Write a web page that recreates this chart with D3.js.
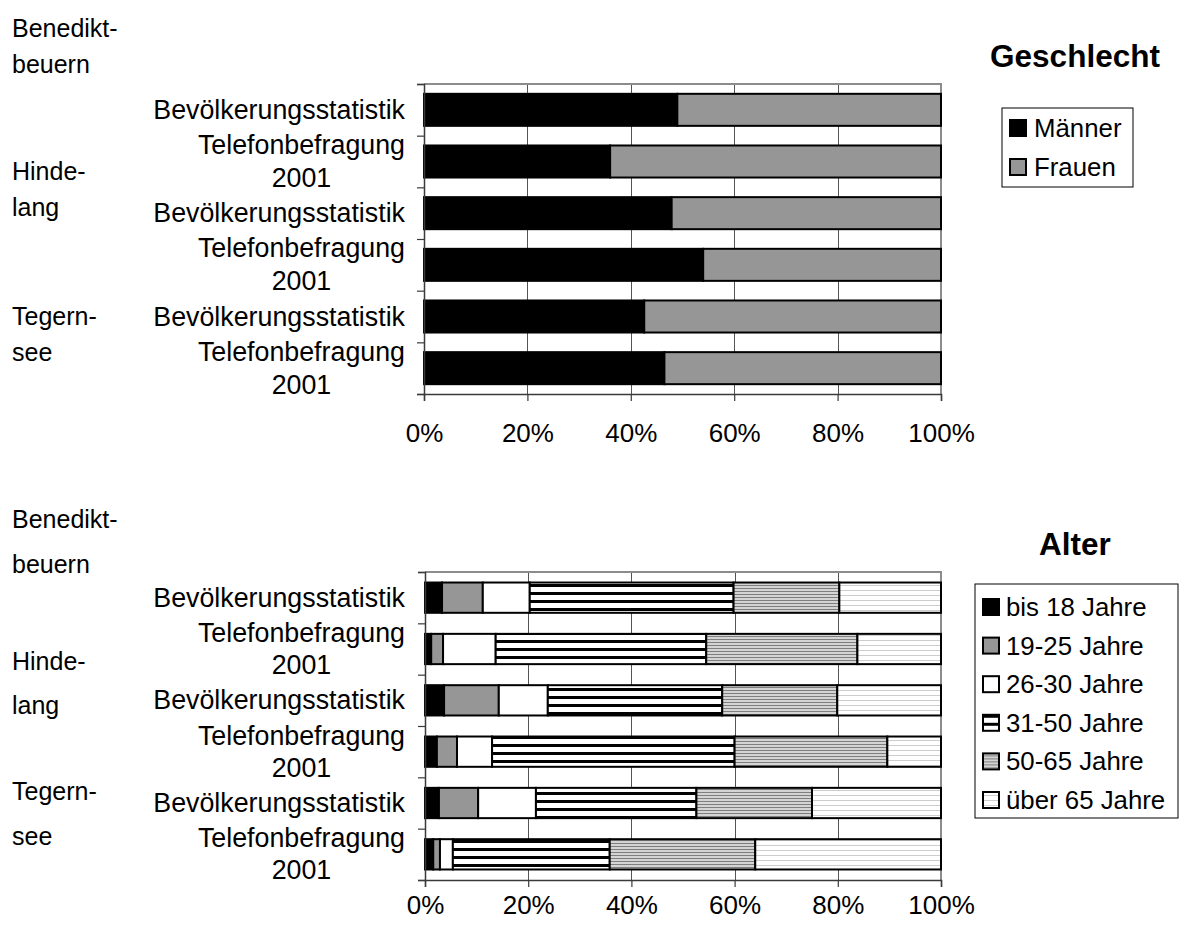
<!DOCTYPE html>
<html><head><meta charset="utf-8">
<script src="https://cdn.jsdelivr.net/npm/d3@7"></script>
<style>
body{margin:0;background:#fff}
text{font-family:"Liberation Sans",Arial,Helvetica,sans-serif;fill:#000}
</style>
</head><body>
<svg id="chart" width="1180" height="928"></svg>
<script>
// ---- data ----
const places = [["Benedikt-", "beuern"], ["Hinde-", "lang"], ["Tegern-", "see"]];
const sources = [["Bevölkerungsstatistik"], ["Telefonbefragung", "2001"]];
const rows = ["Benediktbeuern|Bev", "Benediktbeuern|Tel", "Hindelang|Bev", "Hindelang|Tel", "Tegernsee|Bev", "Tegernsee|Tel"];
const rowSource = [0, 1, 0, 1, 0, 1];
const tickValues = [0, 20, 40, 60, 80, 100];

const genderSeries = ["Männer", "Frauen"];
const maenner = [49.0, 36.0, 47.9, 54.0, 42.6, 46.5];
const frauen  = [51.0, 64.0, 52.1, 46.0, 57.4, 53.5];

const ageSeries = ["bis 18 Jahre", "19-25 Jahre", "26-30 Jahre", "31-50 Jahre", "50-65 Jahre", "über 65 Jahre"];
const bis18   = [3.3, 1.2, 3.7, 2.3, 2.7, 1.6];
const age1925 = [7.9, 2.3, 10.6, 3.9, 7.6, 1.3];
const age2630 = [9.1, 10.2, 9.5, 6.8, 11.2, 2.5];
const age3150 = [39.5, 40.8, 33.8, 47.0, 31.1, 30.4];
const age5065 = [20.5, 29.3, 22.3, 29.6, 22.4, 28.2];
const ueber65 = [19.7, 16.2, 20.1, 10.4, 25.0, 36.0];

// ---- drawing ----
const svg = d3.select("#chart");
const defs = svg.append("defs");

function stripes(id, w, h, bg, lines) {
  const p = defs.append("pattern").attr("id", id)
    .attr("patternUnits", "userSpaceOnUse").attr("width", w).attr("height", h);
  p.append("rect").attr("width", w).attr("height", h).attr("fill", bg);
  lines.forEach(l => p.append("rect").attr("y", l[0]).attr("width", w).attr("height", l[1]).attr("fill", l[2]));
}
stripes("pBold", 8, 8, "#fff", [[0, 3, "#000"]]);
stripes("pFine", 4, 3, "#d4d4d4", [[0, 1, "#7e7e7e"]]);
stripes("pLight", 4, 5, "#fff", [[0, 1, "#cdcdcd"]]);

const FONT = 25;
const CAT_FONT = 26.8;
const LEG_FONT = 25.8;

function panel(cfg) {
  const g = svg.append("g");
  const x = d3.scaleLinear().domain([0, 100]).range([cfg.x0, cfg.x1]);
  const y = d3.scaleBand().domain(rows).range([cfg.y0, cfg.y1])
    .paddingInner(cfg.pad).paddingOuter(cfg.pad / 2);
  const yEdge = d3.scaleLinear().domain([0, rows.length]).range([cfg.y0, cfg.y1]);

  // gridlines
  g.append("g").selectAll("line").data(tickValues.slice(1, -1)).join("line")
    .attr("x1", d => Math.round(x(d)) + 0.5).attr("x2", d => Math.round(x(d)) + 0.5)
    .attr("y1", cfg.y0).attr("y2", cfg.y1)
    .attr("stroke", "#555").attr("stroke-width", 1);

  // plot frame (top & right)
  g.append("path")
    .attr("d", `M${cfg.x0},${cfg.y0}H${cfg.x1}V${cfg.y1}`)
    .attr("fill", "none").attr("stroke", "#8c8c8c").attr("stroke-width", 2);

  // stacked bars
  const table = rows.map((r, i) => {
    const o = { row: r };
    cfg.keys.forEach((k, j) => { o[k] = cfg.values[j][i]; });
    return o;
  });
  const stacked = d3.stack().keys(cfg.keys)(table);
  g.append("g").selectAll("g").data(stacked).join("g")
    .attr("fill", (d, i) => cfg.fills[i])
    .selectAll("rect").data(d => d).join("rect")
    .attr("x", d => x(d[0])).attr("width", d => x(d[1]) - x(d[0]))
    .attr("y", d => y(d.data.row)).attr("height", y.bandwidth())
    .attr("stroke", "#000").attr("stroke-width", 2);

  // axes
  const ax = g.append("g").attr("transform", `translate(0,${cfg.y1})`)
    .call(d3.axisBottom(x).tickValues(tickValues).tickFormat(d => d + "%")
      .tickSizeOuter(0).tickSize(7).tickPadding(cfg.tickPad));
  ax.select(".domain").attr("stroke", "#3a3a3a").attr("stroke-width", 1.5);
  ax.selectAll(".tick line").attr("stroke", "#3a3a3a").attr("stroke-width", 1.2);
  ax.selectAll("text").style("font-size", "26px").attr("fill", "#000");

  const ay = g.append("g").attr("transform", `translate(${cfg.x0},0)`)
    .call(d3.axisLeft(yEdge).tickValues(d3.range(rows.length + 1)).tickFormat("")
      .tickSizeOuter(0).tickSize(7));
  ay.select(".domain").attr("stroke", "#3a3a3a").attr("stroke-width", 1.5);
  ay.selectAll(".tick line").attr("stroke", "#3a3a3a").attr("stroke-width", 1.2);

  // category labels (block right-aligned, lines centred within block)
  rows.forEach((r, i) => {
    const lines = sources[rowSource[i]];
    const t = g.append("text").style("font-size", CAT_FONT + "px").attr("text-anchor", "middle");
    const cy = y(r) + y.bandwidth() / 2;
    const lh = cfg.lineH;
    lines.forEach((ln, k) => {
      t.append("tspan").attr("y", cy + 9 + (k - (lines.length - 1) / 2) * lh).text(ln);
    });
    let wMax = 0;
    t.selectAll("tspan").each(function () { wMax = Math.max(wMax, this.getComputedTextLength()); });
    t.selectAll("tspan").attr("x", cfg.labelRight - wMax / 2);
  });

  // place labels
  places.forEach((p, i) => {
    p.forEach((ln, k) => {
      g.append("text").attr("x", 12).attr("y", cfg.placeY[i][k])
        .style("font-size", FONT + "px").text(ln);
    });
  });

  // title
  g.append("text").attr("x", cfg.titleX).attr("y", cfg.titleY).attr("text-anchor", "middle")
    .style("font-size", "31.5px").style("font-weight", "bold").text(cfg.title);

  // legend
  const L = cfg.legend;
  g.append("rect").attr("x", L.x).attr("y", L.y).attr("width", L.w).attr("height", L.h)
    .attr("fill", "#fff").attr("stroke", "#000").attr("stroke-width", 1);
  const li = g.append("g").selectAll("g").data(cfg.keys).join("g")
    .attr("transform", (d, i) => `translate(${L.x + L.sx},${L.y + L.first + i * L.step})`);
  li.append("rect").attr("x", 0).attr("y", -L.sq / 2).attr("width", L.sq).attr("height", L.sq)
    .attr("fill", (d, i) => cfg.fills[i]).attr("stroke", "#000").attr("stroke-width", 2);
  li.append("text").attr("x", L.tx).attr("y", 9).style("font-size", LEG_FONT + "px").text(d => d);
}

panel({
  keys: genderSeries, values: [maenner, frauen], fills: ["#000", "#969696"],
  x0: 424, x1: 941, y0: 84, y1: 394, pad: 0.38, tickPad: 23, labelRight: 405, lineH: 33,
  placeY: [[37, 73], [180, 216], [325, 361]],
  title: "Geschlecht", titleX: 1075, titleY: 67,
  legend: { x: 1002, y: 108, w: 131, h: 79, sx: 8, first: 20, step: 39, sq: 16, tx: 24 }
});

panel({
  keys: ageSeries, values: [bis18, age1925, age2630, age3150, age5065, ueber65],
  fills: ["#000", "#969696", "#fff", "url(#pBold)", "url(#pFine)", "url(#pLight)"],
  x0: 425, x1: 941, y0: 572, y1: 880, pad: 0.41, tickPad: 9, labelRight: 405, lineH: 32,
  placeY: [[528, 573], [670, 714], [800, 845]],
  title: "Alter", titleX: 1075, titleY: 555,
  legend: { x: 975, y: 584, w: 203, h: 234, sx: 8, first: 23, step: 38.6, sq: 16, tx: 23 }
});
</script>
</body></html>
